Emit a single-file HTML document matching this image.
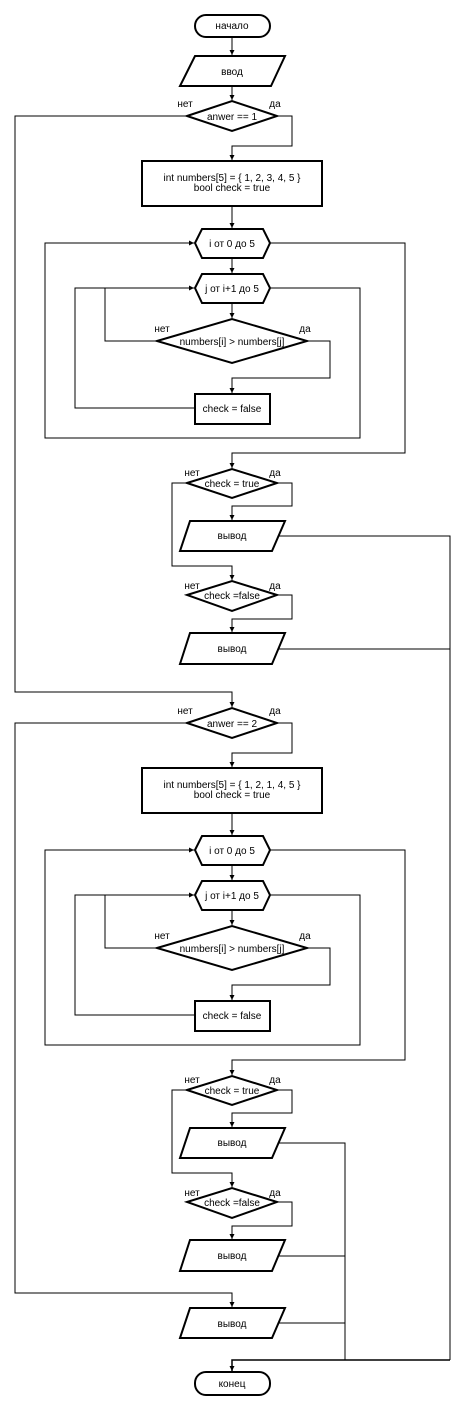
<!DOCTYPE html>
<html><head><meta charset="utf-8"><style>
html,body{margin:0;padding:0;background:#fff}
svg{display:block}
text{font-family:"Liberation Sans",Arial,sans-serif;font-size:10px;fill:#000}
</style></head><body>
<svg width="465" height="1410" viewBox="0 0 465 1410" xmlns="http://www.w3.org/2000/svg">
<defs>
<marker id="a" markerWidth="6" markerHeight="6" refX="5" refY="3" orient="auto" markerUnits="userSpaceOnUse">
<path d="M0,0.5 L5,3 L0,5.5 z" fill="#000"/>
</marker>
<g id="sec">
  <!-- decision anwer -->
  <polygon points="187,116 232,101 277,116 232,131" fill="#fff" stroke="#000" stroke-width="2"/>
  <text x="185" y="107" text-anchor="middle">нет</text>
  <text x="275" y="107" text-anchor="middle">да</text>
  <polyline points="277,116 292,116 292,146 232,146 232,160" fill="none" stroke="#000" marker-end="url(#a)"/>
  <rect x="142" y="161" width="180" height="45" fill="#fff" stroke="#000" stroke-width="2"/>
  <line x1="232" y1="206" x2="232" y2="228" stroke="#000" marker-end="url(#a)"/>
  <!-- hex i -->
  <polygon points="195,243 202,229 263,229 270,243 263,258 202,258" fill="#fff" stroke="#000" stroke-width="2"/>
  <text x="232" y="247" text-anchor="middle">i от 0 до 5</text>
  <line x1="232" y1="258" x2="232" y2="273" stroke="#000" marker-end="url(#a)"/>
  <!-- hex j -->
  <polygon points="195,288 202,274 263,274 270,288 263,303 202,303" fill="#fff" stroke="#000" stroke-width="2"/>
  <text x="232" y="292" text-anchor="middle">j от i+1 до 5</text>
  <line x1="232" y1="303" x2="232" y2="318" stroke="#000" marker-end="url(#a)"/>
  <!-- inner decision -->
  <polygon points="157,341 232,319 307,341 232,363" fill="#fff" stroke="#000" stroke-width="2"/>
  <text x="232" y="345" text-anchor="middle">numbers[i] &gt; numbers[j]</text>
  <text x="162" y="332" text-anchor="middle">нет</text>
  <text x="305" y="332" text-anchor="middle">да</text>
  <polyline points="157,341 105,341 105,288" fill="none" stroke="#000"/>
  <polyline points="307,341 330,341 330,378 232,378 232,393" fill="none" stroke="#000" marker-end="url(#a)"/>
  <rect x="195" y="394" width="75" height="30" fill="#fff" stroke="#000" stroke-width="2"/>
  <text x="232" y="412" text-anchor="middle">check = false</text>
  <polyline points="195,408 75,408 75,288 194,288" fill="none" stroke="#000" marker-end="url(#a)"/>
  <!-- j loop exit -->
  <polyline points="270,288 360,288 360,438 45,438 45,243 194,243" fill="none" stroke="#000" marker-end="url(#a)"/>
  <!-- i loop exit -->
  <polyline points="270,243 405,243 405,453 232,453 232,468" fill="none" stroke="#000" marker-end="url(#a)"/>
  <!-- check = true -->
  <polygon points="187,483 232,469 277,483 232,498" fill="#fff" stroke="#000" stroke-width="2"/>
  <text x="232" y="487" text-anchor="middle">check = true</text>
  <text x="192" y="476" text-anchor="middle">нет</text>
  <text x="275" y="476" text-anchor="middle">да</text>
  <polyline points="277,483 292,483 292,506 232,506 232,520" fill="none" stroke="#000" marker-end="url(#a)"/>
  <polygon points="190,521 285,521 272,551 180,551" fill="#fff" stroke="#000" stroke-width="2"/>
  <text x="232" y="539" text-anchor="middle">вывод</text>
  <polyline points="187,483 172,483 172,566 232,566 232,580" fill="none" stroke="#000" marker-end="url(#a)"/>
  <!-- check =false -->
  <polygon points="187,595 232,581 277,595 232,611" fill="#fff" stroke="#000" stroke-width="2"/>
  <text x="232" y="599" text-anchor="middle">check =false</text>
  <text x="192" y="589" text-anchor="middle">нет</text>
  <text x="275" y="589" text-anchor="middle">да</text>
  <polyline points="277,595 292,595 292,619 232,619 232,632" fill="none" stroke="#000" marker-end="url(#a)"/>
  <polygon points="190,633 285,633 272,664 180,664" fill="#fff" stroke="#000" stroke-width="2"/>
  <text x="232" y="652" text-anchor="middle">вывод</text>
</g>
</defs>

<!-- start -->
<rect x="195" y="15" width="75" height="22" rx="11" fill="#fff" stroke="#000" stroke-width="2"/>
<text x="232" y="29" text-anchor="middle">начало</text>
<line x1="232" y1="37" x2="232" y2="55" stroke="#000" marker-end="url(#a)"/>
<polygon points="195,56 285,56 271,86 180,86" fill="#fff" stroke="#000" stroke-width="2"/>
<text x="232" y="75" text-anchor="middle">ввод</text>
<line x1="232" y1="86" x2="232" y2="100" stroke="#000" marker-end="url(#a)"/>

<!-- section 1 -->
<use href="#sec"/>
<text x="232" y="120" text-anchor="middle">anwer == 1</text>
<text x="232" y="181" text-anchor="middle">int numbers[5] = { 1, 2, 3, 4, 5 }</text>
<text x="232" y="191" text-anchor="middle">bool check = true</text>
<polyline points="187,116 15,116 15,692 232,692 232,707" fill="none" stroke="#000" marker-end="url(#a)"/>
<polyline points="279,536 450,536 450,1360" fill="none" stroke="#000"/>
<line x1="279" y1="649" x2="450" y2="649" stroke="#000"/>

<!-- section 2 -->
<g transform="translate(0,607)"><use href="#sec"/></g>
<text x="232" y="727" text-anchor="middle">anwer == 2</text>
<text x="232" y="788" text-anchor="middle">int numbers[5] = { 1, 2, 1, 4, 5 }</text>
<text x="232" y="798" text-anchor="middle">bool check = true</text>
<polyline points="187,723 15,723 15,1293 232,1293 232,1307" fill="none" stroke="#000" marker-end="url(#a)"/>
<polyline points="279,1143 345,1143 345,1360" fill="none" stroke="#000"/>
<line x1="279" y1="1256" x2="345" y2="1256" stroke="#000"/>

<!-- final output -->
<polygon points="190,1308 285,1308 272,1338 180,1338" fill="#fff" stroke="#000" stroke-width="2"/>
<text x="232" y="1327" text-anchor="middle">вывод</text>
<line x1="279" y1="1323" x2="345" y2="1323" stroke="#000"/>
<polyline points="450,1360 232,1360 232,1371" fill="none" stroke="#000" stroke-width="1.5" marker-end="url(#a)"/>

<rect x="195" y="1372" width="75" height="23" rx="11" fill="#fff" stroke="#000" stroke-width="2"/>
<text x="232" y="1387" text-anchor="middle">конец</text>
</svg>
</body></html>
